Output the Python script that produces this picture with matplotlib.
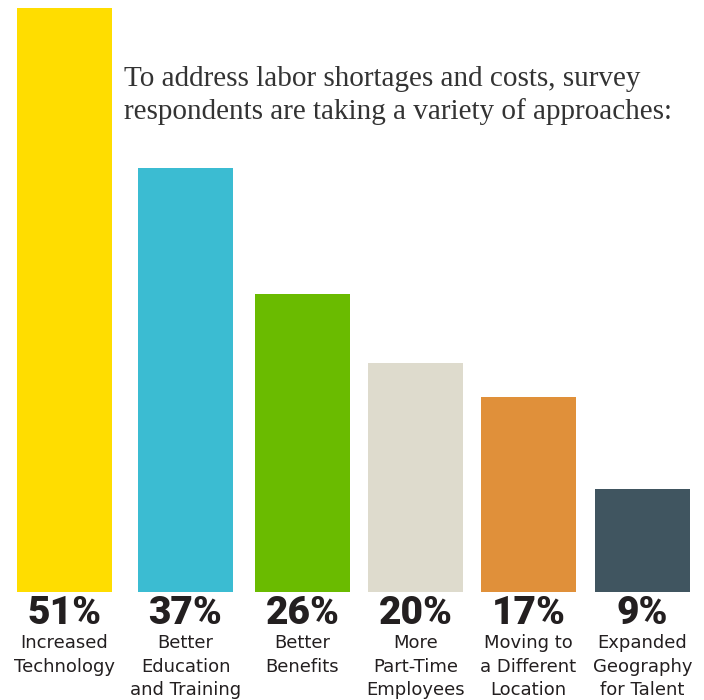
import numpy as np
import matplotlib.pyplot as plt

values = [51, 37, 26, 20, 17, 9]
pct_labels = ["51%", "37%", "26%", "20%", "17%", "9%"]
categories = ["Increased\nTechnology", "Better\nEducation\nand Training", "Better\nBenefits",
              "More\nPart-Time\nEmployees", "Moving to\na Different\nLocation", "Expanded\nGeography\nfor Talent"]
colors = ["#FFDD00", "#3BBCD2", "#6ABB00", "#DEDBCD", "#E0903A", "#405560"]
title = "To address labor shortages and costs, survey\nrespondents are taking a variety of approaches:"

# slightly uneven column spacing, as in the original layout
xpos = np.array([0, 1.047, 2.059, 3.036, 4.014, 5.0])

fig = plt.figure(figsize=(7.04, 7.0), dpi=100)
ax = fig.add_axes([6.7 / 704, 108 / 700, 693.6 / 704, 584 / 700])

ax.bar(xpos, values, width=0.822, color=colors)
ax.set_xlim(-0.5, len(values) - 0.5)
ax.set_ylim(0, 51)
ax.axis("off")

for i, xp in enumerate(xpos):
    ax.annotate(pct_labels[i], (xp, 0), xytext=(0, -2), textcoords="offset points",
                ha="center", va="top", fontsize=28, fontweight="heavy",
                family=["Roboto", "DejaVu Sans"], color="#231F20")
    ax.annotate(categories[i], (xp, 0), xytext=(0, -30), textcoords="offset points",
                ha="center", va="top", fontsize=13, linespacing=1.42,
                family=["DejaVu Sans"], color="#231F20")

fig.text(124 / 704, 1 - 66 / 700, title, ha="left", va="top", fontsize=21,
         family=["Liberation Serif", "DejaVu Serif"], color="#333333", linespacing=1.3)

fig.savefig("out.png", dpi=100)
